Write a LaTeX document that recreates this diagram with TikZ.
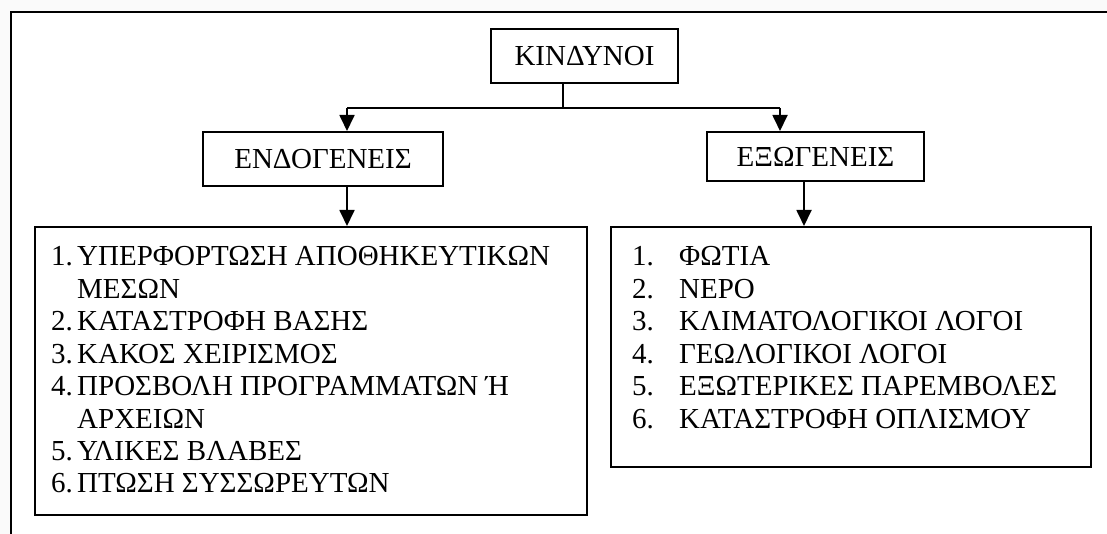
\documentclass[tikz,border=0pt]{standalone}
\usepackage{fontspec}
\setmainfont{Liberation Serif}
\usetikzlibrary{arrows.meta}

\tikzset{
  box/.style={draw=black, line width=2pt, fill=white, inner sep=0pt},
  title/.style={box, font=\fontsize{29}{32}\selectfont},
  item/.style={anchor=base west, inner sep=0pt, font=\fontsize{29}{32}\selectfont},
  link/.style={line width=1.8pt},
  arrow/.style={link, -{Triangle[length=16pt, width=15pt]}},
}

\begin{document}
\begin{tikzpicture}[x=1pt, y=-1pt]
  % page and outer frame
  \useasboundingbox (0,0) rectangle (1107,534);
  \fill[black!2] (0,0) rectangle (1107,534);
  \draw[line width=2.2pt, fill=white] (11,12) rectangle (1130,560);

  % top level and the two groups
  \node[title, minimum width=187pt, minimum height=54pt] (kin) at (584.5,56) {ΚΙΝΔΥΝΟΙ};
  \node[title, minimum width=240pt, minimum height=54pt] (endo) at (323,159) {ΕΝΔΟΓΕΝΕΙΣ};
  \node[title, minimum width=217pt, minimum height=49pt] (exo) at (815.5,156.5) {ΕΞΩΓΕΝΕΙΣ};

  % list boxes
  \node[box, minimum width=552pt, minimum height=288pt] (listL) at (311,371) {};
  \node[box, minimum width=480pt, minimum height=240pt] (listR) at (851,347) {};

  % branch points of the connectors
  \coordinate (jt) at (563,84);
  \coordinate (jl) at (347,108);
  \coordinate (jr) at (780,108);
  \coordinate (xr) at (804,200);

  \draw[link] (jt |- kin.south) -- (jt |- jl);
  \draw[link] (jl) -- (jr);
  \draw[arrow] (jl) -- (jl |- endo.north);
  \draw[arrow] (jr) -- (jr |- exo.north);
  \draw[arrow] (jl |- endo.south) -- (jl |- listL.north);
  \draw[arrow] (xr |- exo.south) -- (xr |- listR.north);

  % internal hazards
  \node[item] (l1n) at (51,266)   {1.};
  \node[item] (l1)  at (77,266)   {ΥΠΕΡΦΟΡΤΩΣΗ ΑΠΟΘΗΚΕΥΤΙΚΩΝ};
  \node[item] (l1b) at (77,298.4) {ΜΕΣΩΝ};
  \node[item] (l2n) at (51,330.8) {2.};
  \node[item] (l2)  at (77,330.8) {ΚΑΤΑΣΤΡΟΦΗ ΒΑΣΗΣ};
  \node[item] (l3n) at (51,363.2) {3.};
  \node[item] (l3)  at (77,363.2) {ΚΑΚΟΣ ΧΕΙΡΙΣΜΟΣ};
  \node[item] (l4n) at (51,395.6) {4.};
  \node[item] (l4)  at (77,395.6) {ΠΡΟΣΒΟΛΗ ΠΡΟΓΡΑΜΜΑΤΩΝ Ή};
  \node[item] (l4b) at (77,428)   {ΑΡΧΕΙΩΝ};
  \node[item] (l5n) at (51,460.4) {5.};
  \node[item] (l5)  at (77,460.4) {ΥΛΙΚΕΣ ΒΛΑΒΕΣ};
  \node[item] (l6n) at (51,492.8) {6.};
  \node[item] (l6)  at (77,492.8) {ΠΤΩΣΗ ΣΥΣΣΩΡΕΥΤΩΝ};

  % external hazards
  \node[item] (r1n) at (632,266)   {1.};
  \node[item] (r1)  at (679,266)   {ΦΩΤΙΑ};
  \node[item] (r2n) at (632,298.4) {2.};
  \node[item] (r2)  at (679,298.4) {ΝΕΡΟ};
  \node[item] (r3n) at (632,330.8) {3.};
  \node[item] (r3)  at (679,330.8) {ΚΛΙΜΑΤΟΛΟΓΙΚΟΙ ΛΟΓΟΙ};
  \node[item] (r4n) at (632,363.2) {4.};
  \node[item] (r4)  at (679,363.2) {ΓΕΩΛΟΓΙΚΟΙ ΛΟΓΟΙ};
  \node[item] (r5n) at (632,395.6) {5.};
  \node[item] (r5)  at (679,395.6) {ΕΞΩΤΕΡΙΚΕΣ ΠΑΡΕΜΒΟΛΕΣ};
  \node[item] (r6n) at (632,428)   {6.};
  \node[item] (r6)  at (679,428)   {ΚΑΤΑΣΤΡΟΦΗ ΟΠΛΙΣΜΟΥ};
\end{tikzpicture}
\end{document}
